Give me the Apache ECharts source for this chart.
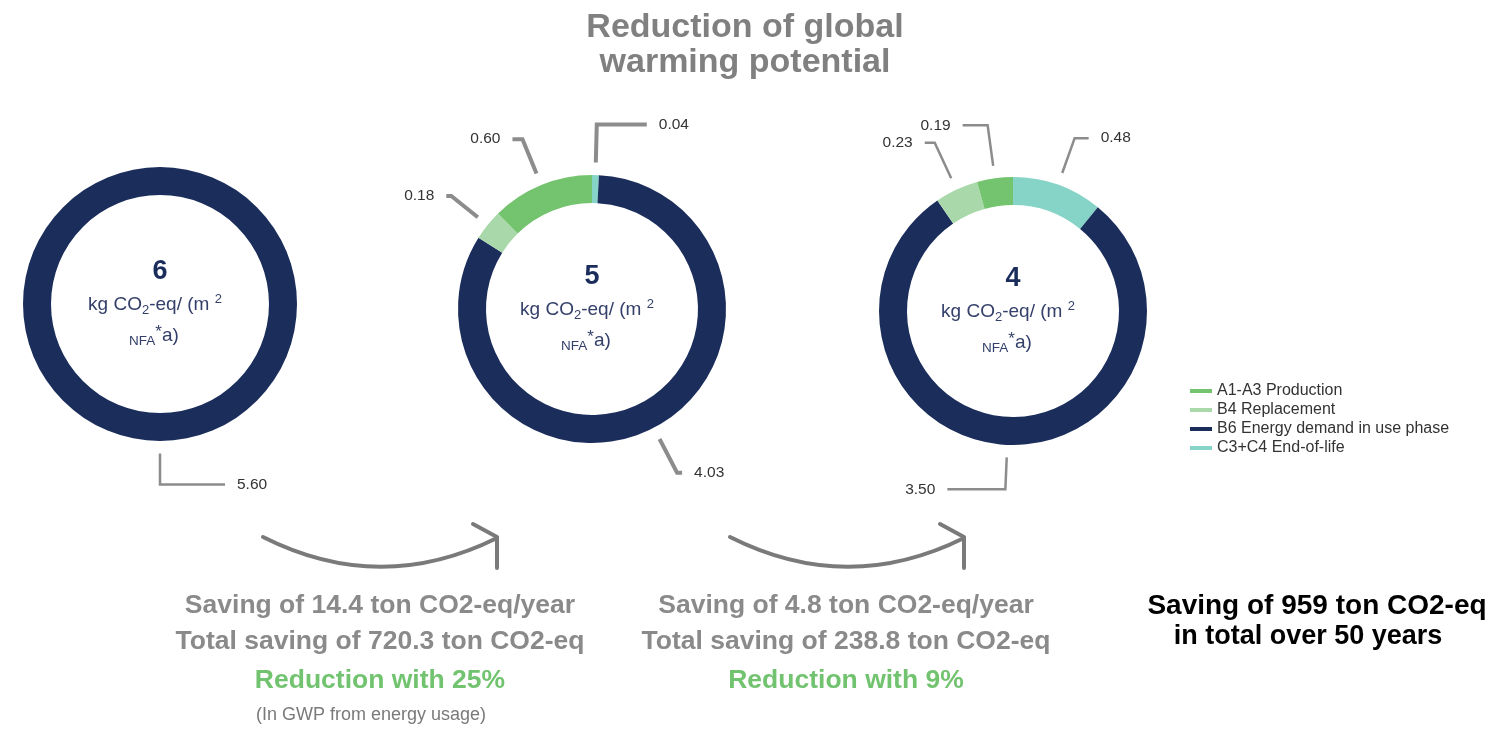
<!DOCTYPE html>
<html><head><meta charset="utf-8">
<script src="https://cdn.jsdelivr.net/npm/echarts@6/dist/echarts.min.js"></script>
<style>html,body{margin:0;padding:0;background:#fff}#c{width:1500px;height:729px}</style>
</head><body><div id="c"></div>
<script>
// ---------- data ----------
const categories = ['A1-A3 Production', 'B4 Replacement', 'B6 Energy demand in use phase', 'C3+C4 End-of-life'];
const drawOrder = [3, 2, 1, 0]; // clockwise from 12 o'clock: C3+C4, B6, B4, A1-A3
const scenario1 = [0, 0, 5.60, 0];
const scenario2 = [0.60, 0.18, 4.03, 0.04];
const scenario3 = [0.19, 0.23, 3.50, 0.48];
const titleLines = ['Reduction of global', 'warming potential'];
const saving1 = ['Saving of 14.4 ton CO2-eq/year', 'Total saving of 720.3 ton CO2-eq'];
const reduction1 = 'Reduction with 25%';
const note1 = '(In GWP from energy usage)';
const saving2 = ['Saving of 4.8 ton CO2-eq/year', 'Total saving of 238.8 ton CO2-eq'];
const reduction2 = 'Reduction with 9%';
const totalSaving = ['Saving of 959 ton CO2-eq', 'in total over 50 years'];

// ---------- styles / layout ----------
const FONT = '"Liberation Sans", Arial, sans-serif';
const colors = ['#74c36f', '#a9d9aa', '#1b2d5b', '#86d3c7'];
const lineColor = '#8c8c8c';
const donuts = [
  { values: scenario1, center: [160, 304], r: [109, 137], lw: 2.5,
    lines: { 2: [31, 65] } },
  { values: scenario2, center: [592, 309], r: [106, 134], lw: 4,
    lines: { 0: [37, 10], 1: [34, 5], 2: [38, 5], 3: [38, 50] } },
  { values: scenario3, center: [1013, 311], r: [106, 134], lw: 2.5,
    lines: { 0: [41, 25], 1: [39, 10], 2: [32, 58], 3: [37, 14] } }
];

const visibleSeries = [];
const labelSeries = [];
donuts.forEach((d, k) => {
  const items = drawOrder.filter(i => d.values[i] > 0).map(i => ({
    name: categories[i], value: d.values[i], catIndex: i
  }));
  visibleSeries.push({
    type: 'pie', name: 'donut' + k, center: d.center, radius: d.r,
    startAngle: 90, clockwise: true, avoidLabelOverlap: false, silent: true,
    label: { show: false }, labelLine: { show: false },
    itemStyle: { borderWidth: 0 },
    data: items.map(it => ({ name: it.name, value: it.value, itemStyle: { color: colors[it.catIndex] } }))
  });
  const gr = d.r[1] + 12;
  labelSeries.push({
    type: 'pie', name: 'labels' + k, center: d.center, radius: [gr, gr + 0.5],
    startAngle: 90, clockwise: true, avoidLabelOverlap: false, silent: true,
    itemStyle: { color: 'rgba(0,0,0,0)', borderWidth: 0 },
    label: { show: true, position: 'outside', distanceToLabelLine: 12,
      color: '#333', fontSize: 15.5, fontFamily: FONT,
      formatter: p => p.value.toFixed(2) },
    labelLine: { show: true, lineStyle: { color: lineColor, width: d.lw, cap: 'butt' } },
    data: items.map(it => {
      const ln = d.lines[it.catIndex] || [35, 10];
      return { name: it.name, value: it.value, labelLine: { length: ln[0], length2: ln[1] } };
    })
  });
});

// center texts
const graphics = [];
const NAVY_TXT = '#34406a';
donuts.forEach(d => {
  const total = d.values.reduce((a, b) => a + b, 0);
  const [cx, cy] = d.center;
  graphics.push({ type: 'text', x: cx, y: cy - 32, silent: true,
    style: { text: String(Math.round(total)), fill: '#1b2d5b', font: 'bold 27px ' + FONT,
      textAlign: 'center', textVerticalAlign: 'middle' } });
  graphics.push({ type: 'text', x: cx - 5, y: cy + 1, silent: true,
    style: { text: '{t|kg CO}{sb|2}{t|-eq/ (m }{sp|2}', textAlign: 'center', textVerticalAlign: 'middle',
      rich: {
        t: { fontSize: 19, fontFamily: FONT, fill: NAVY_TXT, lineHeight: 24 },
        sb: { fontSize: 13, fontFamily: FONT, fill: NAVY_TXT, lineHeight: 13, verticalAlign: 'bottom' },
        sp: { fontSize: 13, fontFamily: FONT, fill: NAVY_TXT, lineHeight: 13, verticalAlign: 'top' }
      } } });
  graphics.push({ type: 'text', x: cx - 6, y: cy + 32, silent: true,
    style: { text: '{sb|NFA}{sp|*}{t|a)}', textAlign: 'center', textVerticalAlign: 'middle',
      rich: {
        t: { fontSize: 19, fontFamily: FONT, fill: NAVY_TXT, lineHeight: 24 },
        sb: { fontSize: 13.5, fontFamily: FONT, fill: NAVY_TXT, lineHeight: 15, verticalAlign: 'bottom' },
        sp: { fontSize: 17, fontFamily: FONT, fill: NAVY_TXT, lineHeight: 15, verticalAlign: 'top' }
      } } });
});

// title
titleLines.forEach((t, i) => graphics.push({ type: 'text', x: 745, y: 28 + i * 35, silent: true,
  style: { text: t, fill: '#808080', font: 'bold 34px ' + FONT, textAlign: 'center', textVerticalAlign: 'middle' } }));

// arrows
function arrow(dx) {
  graphics.push({ type: 'bezierCurve', silent: true,
    shape: { x1: 263 + dx, y1: 537, x2: 497 + dx, y2: 538, cpx1: 380 + dx, cpy1: 596 },
    style: { stroke: '#7a7a7a', lineWidth: 4, fill: null, lineCap: 'round' } });
  graphics.push({ type: 'polyline', silent: true,
    shape: { points: [[473 + dx, 524], [497 + dx, 537], [497 + dx, 568]] },
    style: { stroke: '#7a7a7a', lineWidth: 4, fill: null, lineCap: 'round', lineJoin: 'round' } });
}
arrow(0); arrow(467);

// bottom texts
function txt(s, x, y, color, font) {
  graphics.push({ type: 'text', x, y, silent: true,
    style: { text: s, fill: color, font, textAlign: 'center', textVerticalAlign: 'middle' } });
}
const GRAY = '#8a8a8a', GREEN = '#72c36f';
const BIG = 'bold 26.5px ' + FONT;
txt(saving1[0], 380, 606, GRAY, BIG);
txt(saving1[1], 380, 642, GRAY, BIG);
txt(reduction1, 380, 681, GREEN, BIG);
txt(note1, 371, 715, '#7a7a7a', '18px ' + FONT);
txt(saving2[0], 846, 606, GRAY, BIG);
txt(saving2[1], 846, 642, GRAY, BIG);
txt(reduction2, 846, 681, GREEN, BIG);
txt(totalSaving[0], 1317, 606, '#000', 'bold 28px ' + FONT);
txt(totalSaving[1], 1308, 637, '#000', 'bold 27px ' + FONT);

const chart = echarts.init(document.getElementById('c'), null, { renderer: 'canvas' });
chart.setOption({
  animation: false,
  backgroundColor: '#fff',
  legend: {
    orient: 'vertical', left: 1190, top: 383, padding: 0, icon: 'rect', itemWidth: 22, itemHeight: 4,
    itemGap: 3, data: categories, selectedMode: false,
    textStyle: { fontSize: 16, color: '#333', fontFamily: FONT, lineHeight: 16 }
  },
  series: visibleSeries.concat(labelSeries),
  graphic: graphics
});
</script></body></html>
